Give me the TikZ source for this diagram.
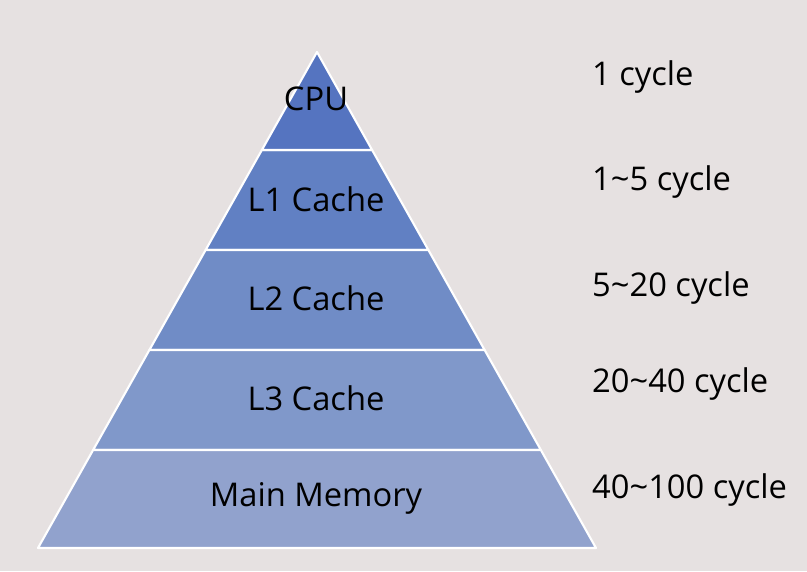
\documentclass[tikz,border=0pt]{standalone}
\usepackage{fontspec}
\setmainfont{Open Sans}
\usepackage{xcolor}
\usepackage{tikz}

\definecolor{bgcol}{HTML}{E6E1E1}
\definecolor{lvlA}{HTML}{5574C0}
\definecolor{lvlB}{HTML}{6180C3}
\definecolor{lvlC}{HTML}{708CC6}
\definecolor{lvlD}{HTML}{8098CA}
\definecolor{lvlE}{HTML}{91A2CD}

\begin{document}
\begin{tikzpicture}[x=0.02cm, y=-0.02cm]

        \newcommand\apexX{317}
        \newcommand\apexY{52}
        \newcommand\baseY{548}
        \newcommand\slope{0.5625}

        \tikzset{
            level/.style={draw=white, line width=1.2pt, line join=round},
            lvltext/.style={font=\fontsize{18.6}{22}\selectfont, text=black},
            cycletext/.style={font=\fontsize{18.6}{22}\selectfont, text=black, anchor=west}
        }

        % Background
        \fill[bgcol] (0,0) rectangle (807,571);
        \useasboundingbox (0,0) rectangle (807,571);

        % Pyramid layers: top y / bottom y / colour
        \foreach \top/\bot/\col in {150/250/lvlB, 250/350/lvlC, 350/450/lvlD, 450/548/lvlE}{
            \pgfmathsetmacro{\wt}{\slope*(\top-\apexY)}
            \pgfmathsetmacro{\wb}{\slope*(\bot-\apexY)}
            \draw[level, fill=\col] (\apexX-\wt,\top) -- (\apexX+\wt,\top)
                -- (\apexX+\wb,\bot) -- (\apexX-\wb,\bot) -- cycle;
        }
        \pgfmathsetmacro{\wt}{\slope*(150-\apexY)}
        \draw[level, fill=lvlA] (\apexX,\apexY) -- (\apexX+\wt,150) -- (\apexX-\wt,150) -- cycle;

        % Level names
        \node[lvltext] (cpu)  at (316,99) {CPU};
        \node[lvltext] (lone) at (316,199) {L1 Cache};
        \node[lvltext] (ltwo) at (316,298) {L2 Cache};
        \node[lvltext] (lthr) at (316,398) {L3 Cache};
        \node[lvltext] (mem)  at (316,498) {Main Memory};

        % Latencies
        \node[cycletext] (cyA) at (586,77)  {1 cycle};
        \node[cycletext] (cyB) at (586,182) {1\textasciitilde5 cycle};
        \node[cycletext] (cyC) at (586,288) {5\textasciitilde20 cycle};
        \node[cycletext] (cyD) at (586,384) {20\textasciitilde40 cycle};
        \node[cycletext] (cyE) at (586,490) {40\textasciitilde100 cycle};

\end{tikzpicture}
\end{document}
